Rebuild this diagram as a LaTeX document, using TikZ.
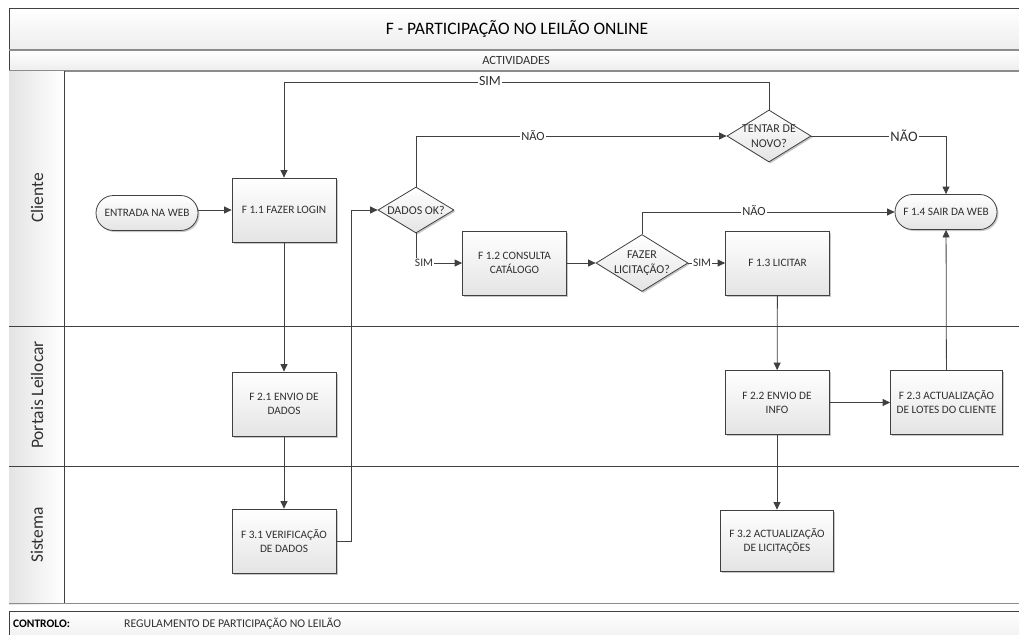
\documentclass[tikz,border=0pt]{standalone}
\usepackage{fontspec}
\setmainfont{Carlito}
\usetikzlibrary{arrows.meta,shapes.geometric,shapes.misc,shadows}
\definecolor{linec}{HTML}{404040}
\definecolor{txt}{HTML}{303030}
\definecolor{boxbot}{HTML}{E4E4E4}
\definecolor{band}{HTML}{EDEDED}
\definecolor{framegray}{HTML}{8C8C8C}
\tikzset{
  boxshadow/.style={drop shadow={shadow xshift=1.5pt,shadow yshift=-1.5pt,fill=black,opacity=0.22}},
  proc/.style={draw=linec,line width=0.8pt,top color=white,bottom color=boxbot,
    minimum width=104pt,minimum height=64pt,inner sep=1pt,align=center,
    font=\fontsize{11.3}{14}\selectfont,text=txt,boxshadow},
  term/.style={draw=linec,line width=0.8pt,rounded rectangle,top color=white,bottom color=boxbot,
    minimum width=104pt,minimum height=35pt,inner sep=1pt,align=center,
    font=\fontsize{11.3}{14}\selectfont,text=txt,boxshadow},
  decis/.style={draw=linec,line width=0.8pt,diamond,top color=white,bottom color=boxbot,
    inner sep=0pt,boxshadow},
  dtext/.style={align=center,inner sep=0pt,font=\fontsize{12}{14.5}\selectfont,text=txt},
  conn/.style={draw=linec,line width=0.8pt,-{Triangle[length=7.5pt,width=7pt]}},
  lbl/.style={fill=white,inner sep=1pt,font=\fontsize{11.5}{12}\selectfont,text=txt},
  lane/.style={rotate=90,font=\fontsize{17.5}{20}\selectfont,text=txt},
  rule/.style={draw=linec,line width=0.8pt},
}
\begin{document}
\begin{tikzpicture}[x=1pt,y=-1pt]
\useasboundingbox (0,0) rectangle (1019,634);
\clip (0,0) rectangle (1019,634);
\fill[white] (0,0) rectangle (1019,634);

% title band and activities band
\path[top color=white,bottom color=band] (9,8) rectangle (1030,50);
\path[top color=white,bottom color=band] (9,50) rectangle (1030,71);
\draw[rule] (1030,8) -- (9,8) -- (9,604);
\draw[draw=framegray,line width=1.4pt] (9,50) -- (1030,50);
\draw[draw=framegray,line width=1.4pt] (9,71) -- (1030,71);
\node[font=\fontsize{17.5}{20}\selectfont,text=black] (title) at (517,29) {F - PARTICIPAÇÃO NO LEILÃO ONLINE};
\node[font=\fontsize{12.5}{14}\selectfont,text=txt] (acts) at (516,60.5) {ACTIVIDADES};

% lane header column
\path[left color=boxbot,right color=white] (9,71) rectangle (64,604);
\draw[rule] (64,71) -- (64,604);
\draw[rule] (9,326) -- (1030,326);
\draw[rule] (9,466) -- (1030,466);
\draw[draw=framegray,line width=1.6pt] (9,603.5) -- (1030,603.5);
\node[lane] (lcli) at (37,198) {Cliente};
\node[lane] (lpor) at (37,395) {Portais Leilocar};
\node[lane] (lsis) at (37,535) {Sistema};

% control bar
\path[top color=white,bottom color=band] (9,611) rectangle (1030,645);
\draw[rule] (1030,611) -- (9,611) -- (9,645);
\node[anchor=west,font=\bfseries\fontsize{11.5}{13}\selectfont,text=black,inner sep=0pt] (ctl) at (13,624) {CONTROLO:};
\node[anchor=west,font=\fontsize{11.8}{13}\selectfont,text=txt,inner sep=0pt] (reg) at (124,624) {REGULAMENTO DE PARTICIPAÇÃO NO LEILÃO};

% process nodes
\node[term] (ent) at (147,213) {ENTRADA NA WEB};
\node[proc] (f11) at (284,210) {F 1.1 FAZER LOGIN};
\node[decis,minimum width=76pt,minimum height=46pt] (dok) at (416,210) {};
\node[dtext] at (dok) {DADOS OK?};
\node[proc] (f12) at (514.5,263) {F 1.2 CONSULTA\\CATÁLOGO};
\node[decis,minimum width=92pt,minimum height=57pt] (faz) at (642,263) {};
\node[dtext] at (faz) {FAZER\\LICITAÇÃO?};
\node[proc] (f13) at (777.5,263) {F 1.3 LICITAR};
\node[decis,minimum width=84pt,minimum height=52pt] (ten) at (769,136) {};
\node[dtext] at (ten) {TENTAR DE\\NOVO?};
\node[term] (f14) at (946,212) {F 1.4 SAIR DA WEB};
\node[proc] (f21) at (284,404) {F 2.1 ENVIO DE\\DADOS};
\node[proc] (f31) at (284,541) {F 3.1 VERIFICAÇÃO\\DE DADOS};
\node[proc] (f22) at (777,402.5) {F 2.2 ENVIO DE\\INFO};
\node[proc,minimum width=112pt] (f23) at (946.5,402.5) {F 2.3 ACTUALIZAÇÃO\\DE LOTES DO CLIENTE};
\node[proc,minimum width=113pt,minimum height=61pt] (f32) at (777,540.5) {F 3.2 ACTUALIZAÇÃO\\DE LICITAÇÕES};

% connectors
\coordinate (loopL) at (284,82);
\coordinate (loopR) at (769,82);
\coordinate (vbend) at (351,541);
\draw[conn] (ent.east |- f11.west) -- (f11.west);
\draw[conn] (f11) -- (f21);
\draw[conn] (f21) -- (f31);
\draw[conn] (f31.east) -- (vbend) |- (dok.west);
\draw[conn] (dok.north) |- (ten.west);
\draw[conn] (ten.north) -- (loopR) -- (loopL) -- (f11.north);
\draw[conn] (ten.east) -| (f14.north);
\draw[conn] (dok.south) |- (f12.west);
\draw[conn] (f12) -- (faz);
\draw[conn] (faz) -- (f13);
\draw[conn] (faz.north) |- (f14.west);
\draw[conn] (f13) -- (f22);
\draw[conn] (f22) -- (f23);
\draw[conn] (f22) -- (f32);
\draw[conn] (f23) -- (f14);

% connector labels
\node[lbl,font=\fontsize{14}{15}\selectfont] at (490,81) {SIM};
\node[lbl,font=\fontsize{12.5}{13}\selectfont] at (533,136) {NÃO};
\node[lbl,font=\fontsize{14.5}{15}\selectfont] at (904,136) {NÃO};
\node[lbl] at (424,263) {SIM};
\node[lbl] at (702,263) {SIM};
\node[lbl,font=\fontsize{12.5}{13}\selectfont] at (754,211) {NÃO};
\end{tikzpicture}
\end{document}
